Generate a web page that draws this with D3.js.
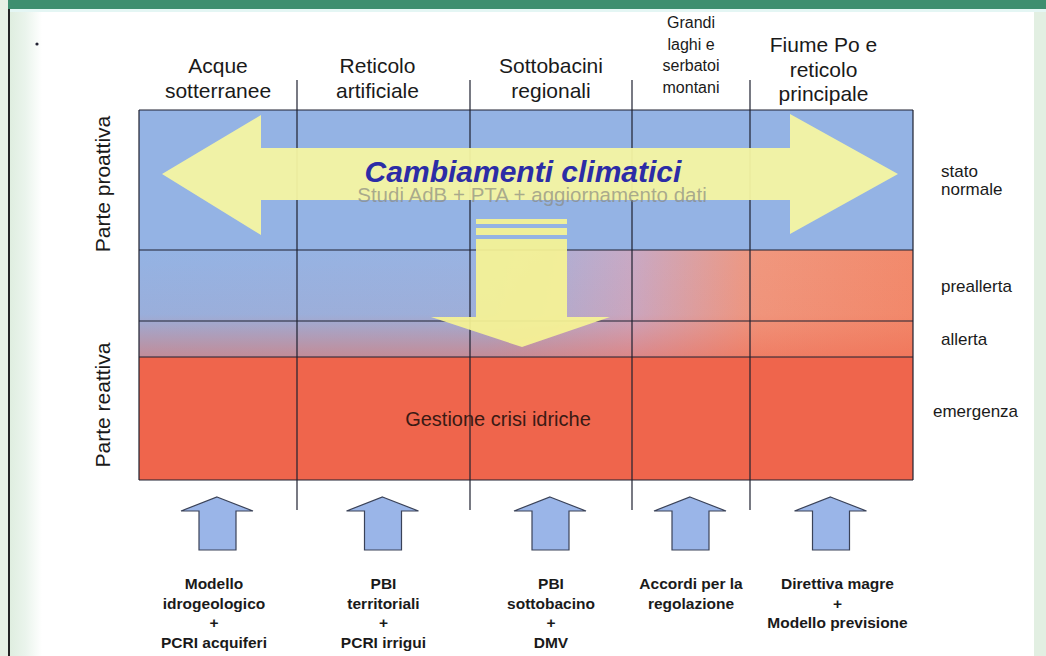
<!DOCTYPE html>
<html>
<head>
<meta charset="utf-8">
<script src="https://cdn.jsdelivr.net/npm/d3@7"></script>
<style>
  body { margin: 0; background: #fff; }
  svg { display: block; font-family: "Liberation Sans", Arial, sans-serif; }
</style>
</head>
<body>
<div id="chart"></div>
<script>
// columns of the scheme (header lines) and their relative widths
var columns = [
    ["Acque", "sotterranee"],
    ["Reticolo", "artificiale"],
    ["Sottobacini", "regionali"],
    ["Grandi", "laghi e", "serbatoi", "montani"],
    ["Fiume Po e", "reticolo", "principale"]
];
var colShare = [158, 173, 162, 118, 163];

// alert states (rows) and their relative heights
var states = [["stato", "normale"], ["preallerta"], ["allerta"], ["emergenza"]];
var rowShare = [140, 71, 36, 123];

var sideLabels = ["Parte proattiva", "Parte reattiva"];

// tools feeding each column
var tools = [
    ["Modello", "idrogeologico", "+", "PCRI acquiferi"],
    ["PBI", "territoriali", "+", "PCRI irrigui"],
    ["PBI", "sottobacino", "+", "DMV"],
    ["Accordi per la", "regolazione"],
    ["Direttiva magre", "+", "Modello previsione"]
];

var title = "Cambiamenti climatici";
var subtitle = "Studi AdB + PTA + aggiornamento dati";
var crisis = "Gestione crisi idriche";

(function(){

    var W = 1046, H = 656;
    var blue = "#94b3e4", red = "#ef654c", yellow = "#f4f6a2";

    var svg = d3.select("#chart").append("svg")
        .attr("width", W).attr("height", H);

    var defs = svg.append("defs");

    // horizontal blue -> red blend for the two middle rows
    var gH = defs.append("linearGradient").attr("id", "gH");
    [[0, blue], [0.45, "#99b3e2"], [0.64, "#c9a9c4"], [0.8, "#f0977e"], [1, "#f28a6c"]]
        .forEach(function(s) { gH.append("stop").attr("offset", s[0]).attr("stop-color", s[1]); });
    var gV = defs.append("linearGradient").attr("id", "gV")
        .attr("x1", 0).attr("y1", 0).attr("x2", 0).attr("y2", 1);
    [[0, red, 0], [0.6, red, 0.06], [1, red, 0.5]]
        .forEach(function(s) { gV.append("stop").attr("offset", s[0]).attr("stop-color", s[1]).attr("stop-opacity", s[2]); });

    // faint map texture at slide edges
    var gL = defs.append("linearGradient").attr("id", "gL");
    [[0, "#d8ead8"], [0.6, "#eaf4ec"], [1, "#ffffff"]]
        .forEach(function(s) { gL.append("stop").attr("offset", s[0]).attr("stop-color", s[1]); });

    svg.append("rect").attr("width", W).attr("height", H).attr("fill", "#fff");
    svg.append("rect").attr("x", 0).attr("y", 0).attr("width", 42).attr("height", H).attr("fill", "url(#gL)");
    svg.append("rect").attr("x", 1034).attr("y", 0).attr("width", 12).attr("height", H).attr("fill", "#e2efe2");
    svg.append("rect").attr("x", 0).attr("y", 0).attr("width", W).attr("height", 9).attr("fill", "#3e8e6f");
    svg.append("rect").attr("x", 0).attr("y", 9).attr("width", W).attr("height", 3).attr("fill", "#e4f6f4");
    svg.append("rect").attr("x", 0).attr("y", 0).attr("width", 8).attr("height", H).attr("fill", "#e6f0e4");
    svg.append("line").attr("x1", 9).attr("x2", 9).attr("y1", 9).attr("y2", H)
        .attr("stroke", "#222").attr("stroke-width", 2);
    svg.append("circle").attr("cx", 37).attr("cy", 44).attr("r", 1.6).attr("fill", "#223");

    // scales over grid
    var colEdges = [0];
    colShare.forEach(function(d, i) { colEdges.push(colEdges[i] + d); });
    var rowEdges = [0];
    rowShare.forEach(function(d, i) { rowEdges.push(rowEdges[i] + d); });

    var colTotal = d3.sum(colShare), rowTotal = d3.sum(rowShare);
    var x = d3.scaleLinear().domain([0, colTotal]).range([139, 913]);
    var y = d3.scaleLinear().domain([0, rowTotal]).range([110, 480]);

    var colMid = function(i) { return x((colEdges[i] + colEdges[i + 1]) / 2); };
    var rowMid = function(i) { return y((rowEdges[i] + rowEdges[i + 1]) / 2); };

    var grid = svg.append("g");

    // row fills
    grid.append("rect").attr("x", x(0)).attr("y", y(rowEdges[0]))
        .attr("width", x(colTotal) - x(0))
        .attr("height", y(rowEdges[1]) - y(rowEdges[0])).attr("fill", blue);
    grid.append("rect").attr("x", x(0)).attr("y", y(rowEdges[1]))
        .attr("width", x(colTotal) - x(0))
        .attr("height", y(rowEdges[3]) - y(rowEdges[1])).attr("fill", "url(#gH)");
    grid.append("rect").attr("x", x(0)).attr("y", y(rowEdges[1]))
        .attr("width", x(colTotal) - x(0))
        .attr("height", y(rowEdges[3]) - y(rowEdges[1])).attr("fill", "url(#gV)");
    grid.append("rect").attr("x", x(0)).attr("y", y(rowEdges[3]))
        .attr("width", x(colTotal) - x(0))
        .attr("height", y(rowEdges[4]) - y(rowEdges[3])).attr("fill", red);

    // grid lines
    grid.selectAll(".hl").data(rowEdges).enter().append("line")
        .attr("x1", x(0)).attr("x2", x(colTotal))
        .attr("y1", function(d) { return y(d); }).attr("y2", function(d) { return y(d); })
        .attr("stroke", "#1e2030").attr("stroke-width", 1.2);
    grid.selectAll(".vl").data(colEdges).enter().append("line")
        .attr("x1", function(d) { return x(d); }).attr("x2", function(d) { return x(d); })
        .attr("y1", function(d, i) { return (i === 0 || i === colEdges.length - 1) ? y(0) : 80; })
        .attr("y2", function(d, i) { return (i === 0 || i === colEdges.length - 1) ? y(rowTotal) : 510; })
        .attr("stroke", "#1e2030").attr("stroke-width", 1.2);

    // crisis text
    svg.append("text").attr("x", 498).attr("y", rowMid(3) + 7)
        .attr("text-anchor", "middle").attr("font-size", 20).attr("fill", "#3a1a14")
        .text(crisis);

    // big horizontal double arrow
    var ha = d3.path();
    ha.moveTo(162, 174); ha.lineTo(261, 115); ha.lineTo(261, 148);
    ha.lineTo(790, 148); ha.lineTo(790, 114); ha.lineTo(898, 174);
    ha.lineTo(790, 234); ha.lineTo(790, 200); ha.lineTo(261, 200);
    ha.lineTo(261, 235); ha.closePath();
    svg.append("path").attr("d", ha.toString()).attr("fill", yellow).attr("fill-opacity", 0.95);

    // down arrow
    var dn = svg.append("g").attr("fill", "#f6f394").attr("fill-opacity", 0.93);
    dn.append("rect").attr("x", 476).attr("y", 219).attr("width", 91).attr("height", 5);
    dn.append("rect").attr("x", 476).attr("y", 228).attr("width", 91).attr("height", 7);
    var da = d3.path();
    da.moveTo(476, 239); da.lineTo(567, 239); da.lineTo(567, 317); da.lineTo(610, 317);
    da.lineTo(522, 347); da.lineTo(431, 317); da.lineTo(476, 317); da.closePath();
    dn.append("path").attr("d", da.toString());

    // titles inside arrow
    svg.append("text").attr("x", 532).attr("y", 202)
        .attr("text-anchor", "middle").attr("font-size", 20.5).attr("fill", "#8a8a80")
        .attr("fill-opacity", 0.7)
        .text(subtitle);
    svg.append("text").attr("x", 523).attr("y", 182)
        .attr("text-anchor", "middle").attr("font-size", 30).attr("font-weight", "bold")
        .attr("font-style", "italic").attr("fill", "#2c2ca6")
        .text(title);

    // column headers
    columns.forEach(function(lines, i) {
        var small = lines.length > 3;
        var fs = small ? 16 : 21, lh = small ? 21.5 : 24.5;
        var base = small ? 28 : (lines.length === 3 ? 52 : 73);
        var t = svg.append("text").attr("text-anchor", "middle")
            .attr("font-size", fs).attr("fill", "#1a1a1a");
        lines.forEach(function(l, j) {
            t.append("tspan").attr("x", colMid(i) - (i === 1 ? 6 : 0) - (i === 4 ? 8 : 0))
                .attr("y", base + j * lh).text(l);
        });
    });

    // state labels on the right
    states.forEach(function(lines, i) {
        var t = svg.append("text").attr("font-size", 17).attr("fill", "#1a1a1a");
        lines.forEach(function(l, j) {
            t.append("tspan").attr("x", i === 3 ? 933 : 941)
                .attr("y", rowMid(i) + 6 - (lines.length - 1) * 9 + j * 18 - (i === 3 ? 8 : 0))
                .text(l);
        });
    });

    // side labels (rotated)
    var sideY = [(y(rowEdges[0]) + y(rowEdges[1])) / 2 + 4, 405];
    sideLabels.forEach(function(l, i) {
        svg.append("text")
            .attr("transform", "translate(110," + sideY[i] + ") rotate(-90)")
            .attr("text-anchor", "middle").attr("font-size", 21).attr("fill", "#1a1a1a")
            .text(l);
    });

    // bottom up arrows and tool labels
    tools.forEach(function(lines, i) {
        var cx = colMid(i) - 1;
        var p = d3.path();
        p.moveTo(cx, 497); p.lineTo(cx + 36, 511); p.lineTo(cx + 19, 511); p.lineTo(cx + 19, 550);
        p.lineTo(cx - 18, 550); p.lineTo(cx - 18, 511); p.lineTo(cx - 36, 511); p.closePath();
        svg.append("path").attr("d", p.toString())
            .attr("fill", "#9ab5e8").attr("stroke", "#3a4258").attr("stroke-width", 1.2);

        var t = svg.append("text").attr("text-anchor", "middle")
            .attr("font-size", 15.5).attr("font-weight", "bold").attr("fill", "#1a1a1a");
        lines.forEach(function(l, j) {
            t.append("tspan").attr("x", colMid(i) + (i === 4 ? 6 : 0) - (i === 0 ? 4 : 0))
                .attr("y", 589 + j * 19.5).text(l);
        });
    });

})();
</script>
</body>
</html>
